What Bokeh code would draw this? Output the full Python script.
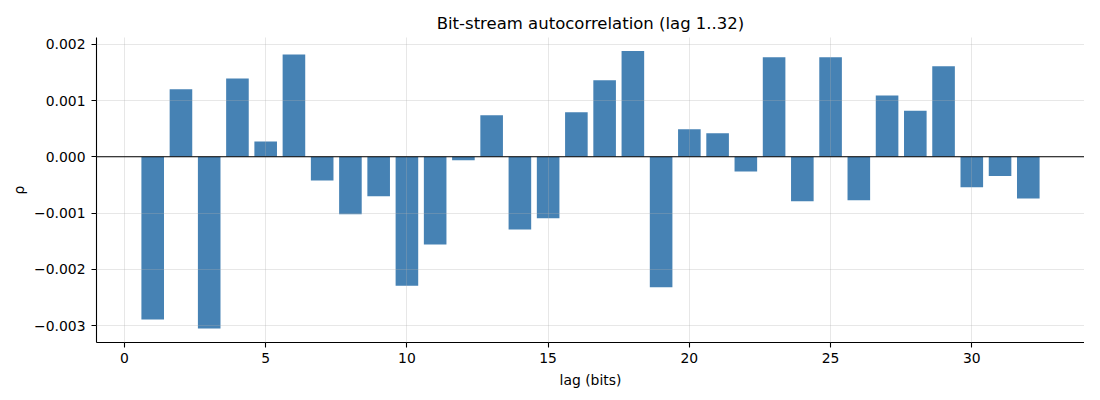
from bokeh.plotting import figure
from bokeh.models import Range1d, Span, FixedTicker, CustomJSTickFormatter
from bokeh.embed import file_html
from bokeh.resources import INLINE

lags = list(range(1, 33))
rho = [-0.00289, 0.00120, -0.00305, 0.00139, 0.00027, 0.00182, -0.00042, -0.00102,
       -0.00070, -0.00229, -0.00156, -0.00006, 0.00074, -0.00129, -0.00109, 0.00079,
       0.00136, 0.00188, -0.00232, 0.00049, 0.00042, -0.00026, 0.00177, -0.00079,
       0.00177, -0.00077, 0.00109, 0.00082, 0.00161, -0.00054, -0.00034, -0.00074]
x_ticks = [0, 5, 10, 15, 20, 25, 30]
y_ticks = [-0.003, -0.002, -0.001, 0.0, 0.001, 0.002]
title_text = "Bit-stream autocorrelation (lag 1..32)"
x_label = "lag (bits)"
y_label = "ρ"

FONT = "DejaVu Sans"

p = figure(frame_width=988, frame_height=305, output_backend="svg", toolbar_location=None,
           x_range=Range1d(-0.99, 33.99), y_range=Range1d(-0.0033, 0.00212),
           min_border_left=96, min_border_top=37, min_border_right=0, min_border_bottom=40,
           title=title_text)
p.background_fill_color = "white"
p.border_fill_color = "white"
p.outline_line_color = None

p.title.text_font = FONT
p.title.text_font_size = "16.5px"
p.title.text_font_style = "normal"
p.title.text_color = "black"
p.title.align = "center"

p.vbar(x=lags, top=rho, width=0.8, color="#4682b4", line_color=None)

p.xaxis.ticker = FixedTicker(ticks=x_ticks)
p.yaxis.ticker = FixedTicker(ticks=y_ticks)
p.yaxis.formatter = CustomJSTickFormatter(code="""
    var s = Math.abs(tick).toFixed(3);
    return (tick < -1e-12 ? '\u2212' : '') + s;
""")
p.xaxis.axis_label = x_label
p.yaxis.axis_label = y_label

for ax in (p.xaxis, p.yaxis):
    ax.axis_line_color = "black"
    ax.axis_line_width = 1.1
    ax.major_tick_line_color = "black"
    ax.major_tick_line_width = 1.1
    ax.major_tick_out = 5
    ax.major_tick_in = 0
    ax.minor_tick_line_color = None
    ax.major_label_text_font = FONT
    ax.major_label_text_font_size = "13.9px"
    ax.major_label_text_color = "black"
    ax.axis_label_text_font = FONT
    ax.axis_label_text_font_size = "13.9px"
    ax.axis_label_text_font_style = "normal"
    ax.axis_label_text_color = "black"
    ax.major_label_standoff = 5
p.yaxis.major_label_standoff = 6
p.xaxis.axis_label_standoff = 6
p.yaxis.axis_label_standoff = 4

for g in (p.xgrid, p.ygrid):
    g.grid_line_color = "#b0b0b0"
    g.grid_line_alpha = 0.3
    g.level = "overlay"
p.xgrid.ticker = FixedTicker(ticks=x_ticks)
p.ygrid.ticker = FixedTicker(ticks=y_ticks)

zero = Span(location=0, dimension="width", line_color="black", line_width=1.1, level="overlay")
p.add_layout(zero)

open("out.html", "w").write(file_html(p, INLINE))
